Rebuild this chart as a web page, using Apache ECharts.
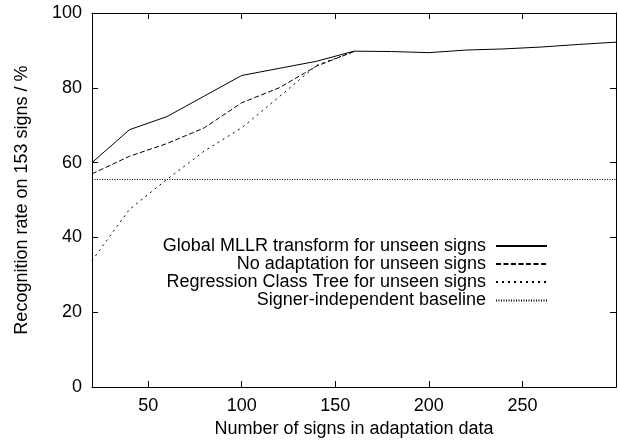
<!DOCTYPE html>
<html>
<head>
<meta charset="utf-8">
<script src="https://cdn.jsdelivr.net/npm/echarts@6/dist/echarts.min.js"></script>
<style>
html,body{margin:0;padding:0;background:#fff;}
#chart{width:619px;height:443px;}
</style>
</head>
<body>
<div id="chart"></div>
<script>
var seriesNames = [
  'Global MLLR transform for unseen signs',
  'No adaptation for unseen signs',
  'Regression Class Tree for unseen signs',
  'Signer-independent baseline'
];
var xGlobal = [20, 40, 60, 80, 100, 120, 140, 160, 180, 200, 220, 240, 260, 280, 300];
var yGlobal = [60.0, 68.8, 72.3, 77.8, 83.3, 85.2, 87.1, 89.8, 89.7, 89.4, 90.1, 90.4, 90.9, 91.6, 92.2];
var xNoAdapt = [20, 40, 60, 80, 100, 120, 140, 160];
var yNoAdapt = [57.0, 61.7, 65.1, 69.3, 76.0, 80.0, 85.8, 89.7];
var xRCT = [20, 40, 60, 80, 100, 120, 140, 160];
var yRCT = [33.8, 47.5, 55.5, 63.1, 69.3, 77.6, 86.0, 89.7];
var xBaseline = [20, 300];
var yBaseline = [55.5, 55.5];
var xTicks = [50, 100, 150, 200, 250];

function pairs(xs, ys) { return xs.map(function (x, i) { return [x, ys[i]]; }); }

var font = 'Liberation Sans, Arial, Helvetica, sans-serif';
var fs = 18;
var styles = [
  { type: 'solid' },
  { type: [5, 2.5] },
  { type: [2, 4] },
  { type: [1, 1.5] }
];
var datas = [
  pairs(xGlobal, yGlobal),
  pairs(xNoAdapt, yNoAdapt),
  pairs(xRCT, yRCT),
  pairs(xBaseline, yBaseline)
];
var legendTops = [237, 255, 273, 291.5];

var series = seriesNames.map(function (n, i) {
  return {
    name: n, type: 'line', data: datas[i], symbol: 'none', showSymbol: false,
    xAxisIndex: 0, yAxisIndex: 0,
    lineStyle: { color: '#000', width: 1, type: styles[i].type },
    itemStyle: { color: '#000' },
    animation: false, silent: true, z: 3
  };
});

var legends = seriesNames.map(function (n, i) {
  return {
    data: [n], orient: 'vertical', align: 'right', right: 71, top: legendTops[i],
    padding: 0, itemWidth: 51, itemHeight: 14, selectedMode: false,
    itemStyle: { opacity: 0 },
    textStyle: { color: '#000', fontSize: fs, fontFamily: font, padding: [0, 5, 0, 0] }
  };
});

function xAx(pos, showLabel) {
  return {
    type: 'value', position: pos, min: 20, max: 300,
    axisLine: { show: true, onZero: false, lineStyle: { color: '#000', width: 1 } },
    axisTick: { show: true, inside: true, length: 6, customValues: xTicks, lineStyle: { color: '#000' } },
    axisLabel: { show: showLabel, customValues: xTicks, color: '#000', fontSize: fs, fontFamily: font, margin: 10 },
    splitLine: { show: false }
  };
}
function yAx(pos, showLabel) {
  return {
    type: 'value', position: pos, min: 0, max: 100, interval: 20,
    axisLine: { show: true, onZero: false, lineStyle: { color: '#000', width: 1 } },
    axisTick: { show: true, inside: true, length: 6, lineStyle: { color: '#000' } },
    axisLabel: { show: showLabel, color: '#000', fontSize: fs, fontFamily: font, margin: 10 },
    splitLine: { show: false }
  };
}

var xBottom = xAx('bottom', true);
xBottom.name = 'Number of signs in adaptation data';
xBottom.nameLocation = 'middle';
xBottom.nameGap = 40;
xBottom.nameTextStyle = { color: '#000', fontSize: fs, fontFamily: font, verticalAlign: 'middle' };
var yLeft = yAx('left', true);
yLeft.name = 'Recognition rate on 153 signs / %';
yLeft.nameLocation = 'middle';
yLeft.nameGap = 70;
yLeft.nameTextStyle = { color: '#000', fontSize: fs, fontFamily: font, verticalAlign: 'middle' };

var chart = echarts.init(document.getElementById('chart'), null, { renderer: 'canvas' });
chart.setOption({
  backgroundColor: '#fff',
  animation: false,
  grid: { left: 92, right: 3, top: 13, bottom: 50, containLabel: false },
  xAxis: [xBottom, xAx('top', false)],
  yAxis: [yLeft, yAx('right', false)],
  legend: legends,
  series: series
});
</script>
</body>
</html>
